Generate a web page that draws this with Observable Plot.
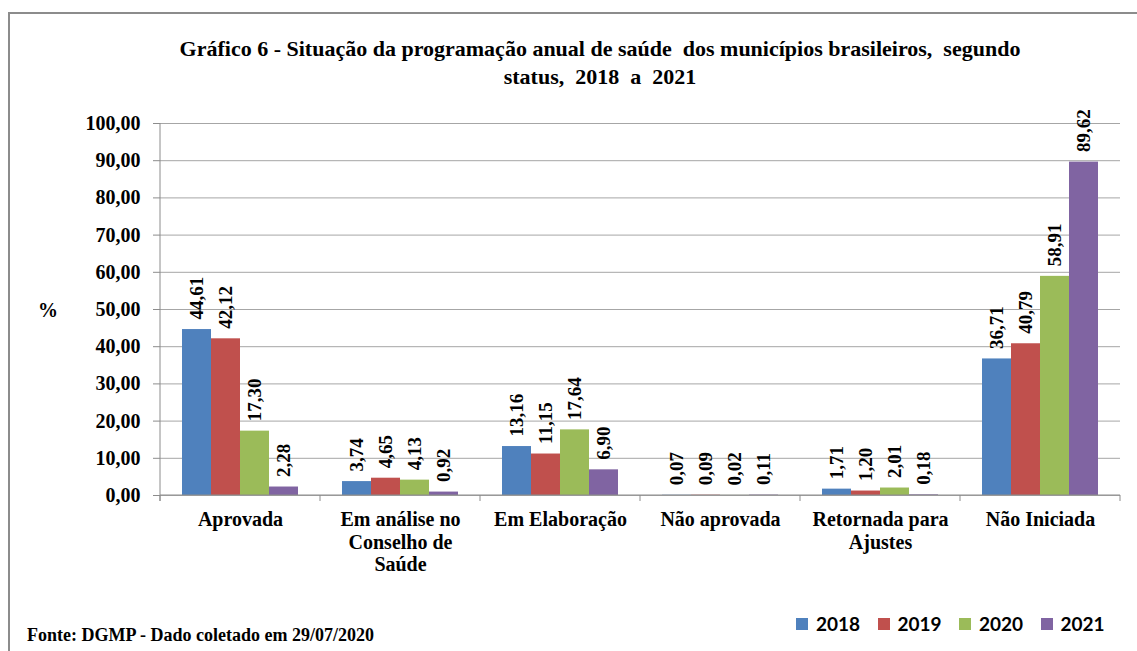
<!DOCTYPE html>
<html><head><meta charset="utf-8">
<script src="https://cdn.jsdelivr.net/npm/d3@7"></script>
<script src="https://cdn.jsdelivr.net/npm/@observablehq/plot@0.6"></script>
<style>
body{margin:0;background:#fff;overflow:hidden}
#wrap{position:relative;width:1137px;height:651px;overflow:hidden;background:#fff}
#frame{position:absolute;left:8px;top:12px;width:1200px;height:700px;border:2px solid #8c8c8c;box-sizing:border-box}
#title{position:absolute;left:0;width:1200px;top:35px;text-align:center;font:bold 22px "Liberation Serif","Times New Roman",serif;line-height:28px;color:#000}
#chart{position:absolute;left:0;top:0}
#pct{position:absolute;left:38px;top:299px;font:bold 20px "Liberation Serif","Times New Roman",serif}
#fonte{position:absolute;left:27px;top:625px;font:bold 18px "Liberation Serif","Times New Roman",serif}
#legend{position:absolute;left:796px;top:612px;display:flex;font:bold 19px Lato,sans-serif}
.item{display:flex;align-items:center;width:81.5px}
.sw{width:12px;height:12px;margin-right:8px}
</style></head>
<body><div id="wrap">
<div id="frame"></div>
<div id="title">Gráfico 6 - Situação da programação anual de saúde&nbsp; dos municípios brasileiros,&nbsp; segundo<br>status,&nbsp; 2018&nbsp; a&nbsp; 2021</div>
<div id="chart"></div>
<div id="pct">%</div>
<div id="fonte">Fonte: DGMP - Dado coletado em 29/07/2020</div>
<div id="legend"></div>
</div>
<script>
const categories = ["Aprovada","Em análise no Conselho de Saúde","Em Elaboração","Não aprovada","Retornada para Ajustes","Não Iniciada"];
const categoryLabels = ["Aprovada","Em análise no\nConselho de\nSaúde","Em Elaboração","Não aprovada","Retornada para\nAjustes","Não Iniciada"];
const years = ["2018","2019","2020","2021"];
const v2018 = [44.61,3.74,13.16,0.07,1.71,36.71];
const v2019 = [42.12,4.65,11.15,0.09,1.20,40.79];
const v2020 = [17.30,4.13,17.64,0.02,2.01,58.91];
const v2021 = [2.28,0.92,6.90,0.11,0.18,89.62];
const colors = ["#4F81BD","#C0504D","#9BBB59","#8064A2"];
const yTicks = [0,10,20,30,40,50,60,70,80,90,100];

const series = [v2018,v2019,v2020,v2021];
const data = [];
categories.forEach((c,i)=>years.forEach((y,j)=>data.push({cat:c, year:y, value:series[j][i]})));
const fmt = v => v.toFixed(2).replace(".", ",");
const labelOf = Object.fromEntries(categories.map((c,i)=>[c,categoryLabels[i]]));

const chart = Plot.plot({
  width:1137, height:600,
  marginLeft:157, marginRight:15, marginTop:123, marginBottom:105,
  style:{fontFamily:"'Liberation Serif', 'Times New Roman', serif", fontWeight:"bold", fontSize:"20px", color:"#000", background:"transparent", overflow:"visible"},
  fx:{domain:categories, padding:0, label:null, axis:null},
  x:{domain:years, axis:null, paddingInner:0, paddingOuter:0.73},
  y:{domain:[0,100], axis:null, label:null},
  color:{domain:years, range:colors},
  marks:[
    Plot.gridY(yTicks, {stroke:"#a6a6a6", strokeOpacity:1, strokeWidth:1}),
    Plot.axisY({ticks:yTicks, tickFormat:fmt, tickSize:7, tickPadding:13, stroke:"#8c8c8c", label:null, fontSize:20}),
    Plot.axisFx({anchor:"bottom", tickSize:0, tickPadding:15, tickFormat:c=>labelOf[c], label:null, lineHeight:1.12, fontSize:20}),
    Plot.barY(data, {fx:"cat", x:"year", y:"value", fill:"year"}),
    Plot.text(data, {fx:"cat", x:"year", y:"value", text:d=>fmt(d.value), rotate:-90, textAnchor:"start", dy:-10, fontSize:19, fontWeight:"bold"})
  ]
});
document.getElementById("chart").appendChild(chart);

// axis line and band-edge ticks from the library's scales
const fx = chart.scale("fx"), ys = chart.scale("y");
const svg = d3.select(chart);
const edges = categories.map(c=>fx.apply(c)).concat([fx.apply(categories[categories.length-1]) + fx.bandwidth]);
const y0 = ys.apply(0), y100 = ys.apply(100);
svg.append("line").attr("x1",edges[0]).attr("x2",edges[0]).attr("y1",y100).attr("y2",y0+6).attr("stroke","#8c8c8c");
svg.append("line").attr("x1",edges[0]).attr("x2",edges[edges.length-1]).attr("y1",y0).attr("y2",y0).attr("stroke","#8c8c8c");
svg.selectAll(".edge").data(edges).join("line").attr("class","edge")
  .attr("x1",d=>d).attr("x2",d=>d).attr("y1",y0).attr("y2",y0+6).attr("stroke","#8c8c8c");

// legend
const lg = d3.select("#legend");
years.forEach((y,i)=>{
  const it = lg.append("div").attr("class","item");
  it.append("div").attr("class","sw").style("background",colors[i]);
  it.append("span").text(y);
});
</script>
</body></html>
